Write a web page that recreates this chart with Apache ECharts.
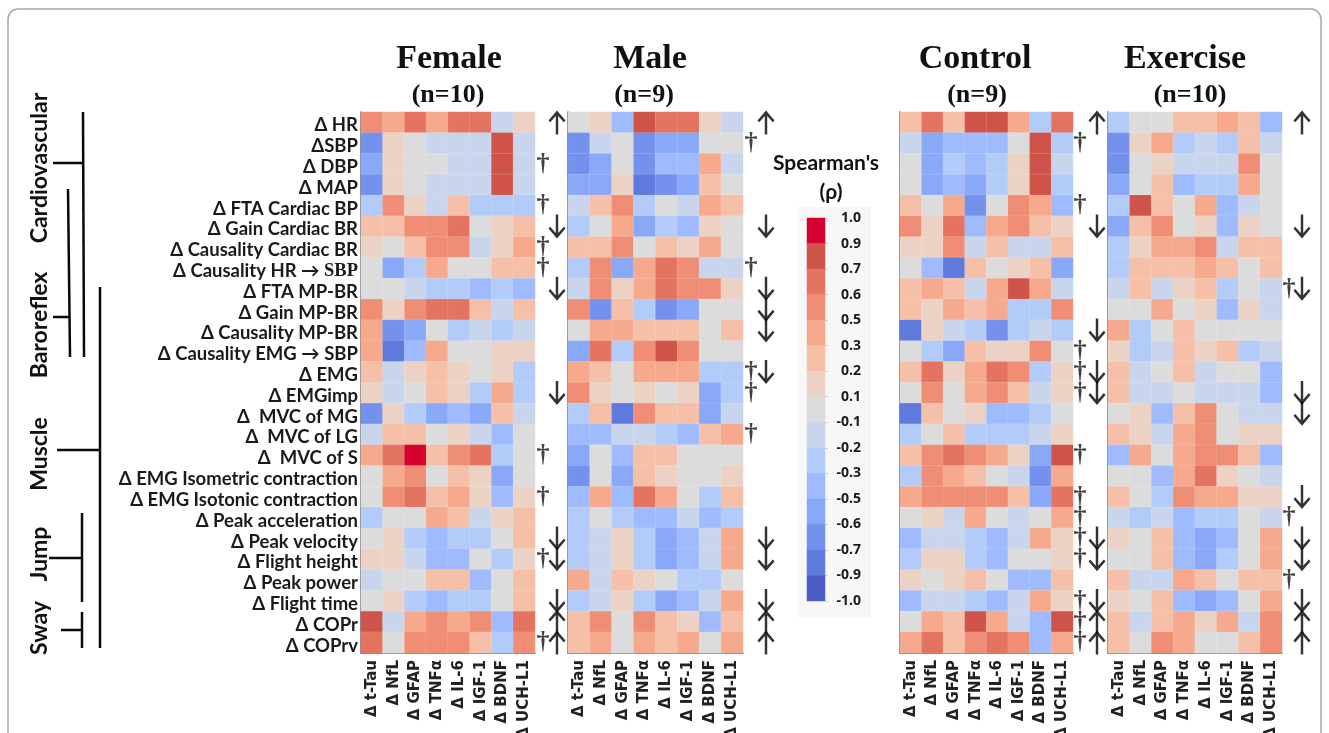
<!DOCTYPE html>
<html>
<head>
<meta charset="utf-8">
<style>html,body{margin:0;padding:0;background:#fff;overflow:hidden}#c{width:1329px;height:733px}</style>
<script src="https://cdn.jsdelivr.net/npm/echarts@6/dist/echarts.min.js"></script>
</head>
<body>
<div id="c"></div>
<script>
const markers = ["Δ t-Tau","Δ NfL","Δ GFAP","Δ TNFα","Δ IL-6","Δ IGF-1","Δ BDNF","Δ UCH-L1"];
const outcomes = ["Δ HR","ΔSBP","Δ DBP","Δ MAP","Δ FTA Cardiac BP","Δ Gain Cardiac BR","Δ Causality Cardiac BR","Δ Causality HR → SBP","Δ FTA MP-BR","Δ Gain MP-BR","Δ Causality MP-BR","Δ Causality EMG → SBP","Δ EMG","Δ EMGimp","Δ  MVC of MG","Δ  MVC of LG","Δ  MVC of S","Δ EMG Isometric contraction","Δ EMG Isotonic contraction","Δ Peak acceleration","Δ Peak velocity","Δ Flight height","Δ Peak power","Δ Flight time","Δ COPr","Δ COPrv"];

const female = [
[.55,.4,.65,.4,.65,.65,-.15,.15],
[-.65,.15,0,-.15,-.15,-.15,.8,-.15],
[-.55,.15,0,0,-.15,-.15,.8,-.15],
[-.65,.15,0,-.15,-.15,-.15,.8,-.15],
[-.25,.55,.15,-.15,.25,-.25,-.25,-.25],
[.25,.25,.55,.55,.65,0,.15,.25],
[.15,0,.25,.55,.55,-.15,.15,.4],
[0,-.55,-.25,.4,0,0,.25,.25],
[0,0,-.15,-.25,-.25,-.4,-.25,-.4],
[.55,.15,.55,.65,.65,.25,-.15,.25],
[.4,-.65,-.55,0,-.25,-.15,-.25,-.15],
[.4,-.8,-.4,.4,0,0,.15,.15],
[.25,-.15,.15,.25,.15,0,.15,-.25],
[.15,-.15,0,.25,.15,-.25,.4,-.25],
[-.65,.15,-.25,-.55,-.4,-.55,.25,-.15],
[-.15,.25,.25,0,.15,-.15,-.4,0],
[.4,.65,.95,.25,.55,.65,-.25,0],
[0,.4,.55,0,.25,.15,-.55,0],
[0,.55,.65,.25,.4,.15,-.4,.15],
[-.25,0,0,.4,.25,-.15,.15,.25],
[0,.15,-.25,-.4,-.25,-.25,0,.25],
[.15,.15,-.15,-.4,-.4,0,-.25,.15],
[-.15,0,0,.25,.25,-.4,0,.25],
[0,.15,-.25,-.4,-.25,-.25,0,.25],
[.8,-.15,.4,.55,.4,.55,-.4,.65],
[.65,0,.55,.55,.55,.25,-.25,.55]];

const male = [
[0,.15,-.4,.8,.65,.65,.15,-.15],
[-.65,-.15,0,-.65,-.55,-.55,0,0],
[-.65,-.55,0,-.65,-.4,-.4,.4,-.15],
[-.55,-.55,.15,-.8,-.65,-.55,.25,0],
[-.15,.25,.55,-.25,0,-.15,.4,.25],
[-.25,0,.4,-.55,-.25,-.4,.15,0],
[.25,.25,.55,0,.25,.15,.4,0],
[-.25,.55,-.55,.4,.65,.55,-.15,-.15],
[-.15,.55,.15,.4,.65,.55,.55,.15],
[.55,-.65,.25,-.25,-.65,-.55,0,0],
[0,.4,.4,.25,.25,.25,0,.25],
[-.55,.65,-.25,.55,.8,.55,0,0],
[.4,.25,0,.4,.4,.4,-.25,-.25],
[.55,.15,0,.15,0,.15,-.55,-.25],
[-.25,.25,-.8,.55,.25,.25,-.55,-.15],
[-.4,-.4,-.15,-.15,-.25,-.4,.25,.4],
[-.55,0,-.4,.25,.25,0,0,0],
[-.65,0,-.55,.25,.15,0,0,.15],
[-.4,.4,-.4,.65,.4,0,-.25,.25],
[-.25,0,-.25,-.4,-.4,-.15,-.4,-.25],
[-.25,-.15,.15,-.25,-.55,-.4,-.15,.4],
[-.25,-.15,.15,-.25,-.55,-.4,-.15,.4],
[.4,-.15,.25,.15,0,-.25,-.25,0],
[-.25,-.15,.15,-.25,-.55,-.4,-.15,.4],
[.25,.55,0,.55,.25,.15,-.4,.25],
[.25,.4,0,.4,.25,.4,0,.4]];

const control = [
[.25,.65,.25,.8,.8,.4,-.25,.65],
[-.15,-.55,-.4,-.4,-.4,0,.8,-.25],
[0,-.55,-.25,-.4,-.25,.15,.8,-.15],
[0,-.55,-.4,-.55,-.25,.15,.8,-.25],
[.25,0,.4,-.65,0,.55,.4,-.4],
[.55,.15,.65,-.4,.4,.55,.25,.15],
[.15,.15,.55,-.15,.25,-.15,-.15,.25],
[0,-.4,-.8,.25,0,.15,.25,-.55],
[.25,.4,.25,-.15,.4,.8,.4,-.15],
[.25,.15,.4,.25,.4,-.25,-.25,.55],
[-.8,.15,-.15,-.25,-.65,-.25,-.15,-.25],
[0,-.25,-.55,.25,.15,.15,.55,0],
[.25,.65,.15,.4,.65,.55,-.25,.15],
[0,.55,0,.4,.55,.25,-.15,.15],
[-.8,.25,0,.15,-.4,-.4,-.25,0],
[-.25,0,.25,-.25,-.25,-.25,-.15,.15],
[.25,.55,.65,.55,.4,.15,-.55,.8],
[-.25,.55,.4,.25,0,-.15,-.65,.4],
[.4,.55,.55,.55,.55,.25,-.55,.65],
[0,.15,-.15,.4,0,-.15,0,.4],
[-.4,-.15,-.15,-.25,-.4,-.15,.4,.15],
[-.25,.15,.15,-.25,-.4,0,0,.15],
[.15,0,.15,.25,0,-.4,-.4,.25],
[-.4,-.15,-.15,-.25,-.4,-.15,.4,.15],
[0,.4,.25,.8,.4,-.15,-.4,.8],
[.4,.65,.25,.55,.65,.55,-.4,.4]];

const exercise = [
[-.25,0,0,.25,.25,.4,.25,-.4],
[-.65,.15,.4,-.25,-.15,-.25,.25,-.15],
[-.65,0,.15,-.15,-.15,-.15,.55,0],
[-.55,0,.25,-.4,-.25,-.25,.4,0],
[-.25,.8,.25,0,.4,-.4,-.15,0],
[-.55,.25,.55,0,.15,-.4,.15,0],
[-.25,.15,.4,.4,.55,-.15,.25,.25],
[-.25,.25,.25,.25,.4,.25,0,.25],
[-.15,.25,-.15,.15,.25,-.25,0,-.15],
[0,0,.4,0,.15,-.4,.15,-.15],
[.4,-.25,0,.25,0,0,0,0],
[.15,-.25,-.15,.25,.15,.25,-.25,-.15],
[.25,-.15,0,.25,-.15,0,0,-.4],
[.25,-.15,-.15,0,-.15,-.15,-.15,-.4],
[0,.15,-.4,.25,.55,0,-.15,-.15],
[.25,.15,-.15,.4,.55,0,.15,.15],
[-.4,.4,0,.4,.55,.55,.25,-.4],
[0,0,-.4,.4,.65,.15,0,-.15],
[.25,0,-.25,.55,.4,.4,.15,.15],
[-.15,-.25,-.15,-.4,-.25,-.25,0,-.15],
[.15,0,.25,-.4,-.55,-.4,0,.4],
[0,0,.25,-.4,-.55,-.25,0,.4],
[.25,-.15,-.15,.4,.25,0,.25,.25],
[.15,0,.25,-.4,-.55,-.4,0,.4],
[.25,-.15,.25,.4,.15,.4,-.15,.55],
[.25,0,.55,.4,0,0,.25,.55]];

const femaleDaggers = [2,4,6,7,16,18,21,25];
const femaleDown = [5,8,13,20,21,23];
const femaleUp = [0,24,25];
const maleDaggers = [1,7,12,13,15];
const maleDown = [5,8,9,10,12,20,21,23];
const maleUp = [0,24,25];
const controlDaggers = [1,4,11,12,13,16,18,19,20,21,23,24,25];
const controlDown = [5,10,12,13,20,21,23];
const controlUp = [0,24,25];
const exerciseDaggers = [8,19,22];
const exerciseDown = [5,8,13,14,18,20,21,23];
const exerciseUp = [0,24,25];

const rhoTicks = ["1.0","0.9","0.7","0.6","0.5","0.3","0.2","0.1","-0.1","-0.2","-0.3","-0.5","-0.6","-0.7","-0.9","-1.0"];
const rhoEdges = [1,.9,.7,.6,.5,.3,.2,.1,-.1,-.2,-.3,-.5,-.6,-.7,-.9,-1];
const rhoColors = ["#d6012e","#cf5349","#e4735f","#ef8e75","#f6a98d","#f5bfa8","#ecd2c4","#dcdcdc","#c8d5ec","#b3cbf9","#9fbbfd","#8aa8f8","#7391ed","#6079dc","#4b5cc4"];
const legendLevels = [.95,.8,.65,.55,.4,.25,.15,0,-.15,-.25,-.4,-.55,-.65,-.8,-.95];

const downPath = "path://M6.7,0 L9.3,0 L9.3,18.5 L15.2,12.2 L17,14 L8,24 L-1,14 L0.8,12.2 L6.7,18.5 Z";
const upPath = "path://M6.7,24 L9.3,24 L9.3,5.5 L15.2,11.8 L17,10 L8,0 L-1,10 L0.8,11.8 L6.7,5.5 Z";

const panels = [
 {name:"Female",n:"(n=10)",d:female,dg:femaleDaggers,dn:femaleDown,up:femaleUp,left:361,w:174,tx:449,nx:448,dx:543,ax:557},
 {name:"Male",n:"(n=9)",d:male,dg:maleDaggers,dn:maleDown,up:maleUp,left:568,w:175,tx:650,nx:644,dx:751,ax:766},
 {name:"Control",n:"(n=9)",d:control,dg:controlDaggers,dn:controlDown,up:controlUp,left:900,w:173,tx:975,nx:977,dx:1080,ax:1097},
 {name:"Exercise",n:"(n=10)",d:exercise,dg:exerciseDaggers,dn:exerciseDown,up:exerciseUp,left:1108,w:174,tx:1185,nx:1190,dx:1289,ax:1302}
];
const TOP = 112, H = 541;
const grids=[],xAxes=[],yAxes=[],series=[],titles=[];
const sans = "Lato,'Open Sans'";

panels.forEach((p,i)=>{
  titles.push({text:p.name,left:p.tx,top:42,padding:0,textAlign:"center",textStyle:{fontFamily:"'Liberation Serif'",fontWeight:"bold",fontSize:34,color:"#111"}});
  titles.push({text:p.n,left:p.nx,top:82,padding:0,textAlign:"center",textStyle:{fontFamily:"'Liberation Serif'",fontWeight:"bold",fontSize:26,color:"#111"}});
  const g = grids.length;
  grids.push({left:p.left,top:TOP,width:p.w,height:H,outerBoundsMode:"none"});
  xAxes.push({gridIndex:g,type:"category",data:markers,position:"bottom",
    axisLine:{show:true,lineStyle:{color:"#555",width:1.5}},axisTick:{show:false},
    axisLabel:{rotate:90,interval:0,margin:7,fontFamily:"'DejaVu Sans'",fontSize:15,fontWeight:"bold",color:"#222"},splitLine:{show:false}});
  yAxes.push({gridIndex:g,type:"category",data:outcomes,inverse:true,
    axisLine:{show:true,onZero:false,lineStyle:{color:"#555",width:1.5}},axisTick:{show:false},splitLine:{show:false},
    axisLabel:{show:i===0,interval:0,margin:3,padding:[6,0,0,0],fontFamily:sans,fontSize:18.5,fontWeight:"bold",color:"#1a1a1a",
      formatter:v=>v.includes("HR → SBP")?"{a|Δ Causality HR → }{s|SBP}":v,
      rich:{a:{fontFamily:sans,fontSize:18.5,fontWeight:"bold",color:"#1a1a1a"},s:{fontFamily:"'Liberation Serif'",fontSize:18.5,fontWeight:"bold",color:"#1a1a1a"}}}});
  const cells=[];
  p.d.forEach((row,r)=>row.forEach((v,c)=>cells.push([c,r,v])));
  series.push({type:"heatmap",name:p.name,xAxisIndex:g,yAxisIndex:g,data:cells,
    itemStyle:{borderWidth:1,borderColor:"rgba(255,255,255,0.12)"},emphasis:{disabled:true},silent:true,z:2});
});

panels.forEach((p)=>{
  const g = grids.length, gap=p.ax-p.dx;
  grids.push({left:p.dx-gap/2,top:TOP,width:gap*2,height:H,outerBoundsMode:"none"});
  xAxes.push({gridIndex:g,type:"category",data:["dagger","arrow"],show:false});
  yAxes.push({gridIndex:g,type:"category",data:outcomes,inverse:true,show:false});
  series.push({type:"scatter",xAxisIndex:g,yAxisIndex:g,silent:true,symbolSize:1,itemStyle:{color:"rgba(0,0,0,0)"},
    data:p.dg.map(r=>["dagger",r]),
    label:{show:true,position:"inside",formatter:"†",fontFamily:"'Liberation Serif'",fontSize:26,fontWeight:"bold",color:"#111"}});
  series.push({type:"scatter",xAxisIndex:g,yAxisIndex:g,silent:true,symbol:downPath,symbolSize:[17,24],itemStyle:{color:"#000"},
    data:p.dn.map(r=>["arrow",r])});
  series.push({type:"scatter",xAxisIndex:g,yAxisIndex:g,silent:true,symbol:upPath,symbolSize:[17,24],itemStyle:{color:"#000"},
    data:p.up.map(r=>["arrow",r])});
});

const lg = grids.length;
grids.push({left:807,top:218,width:18,height:383,outerBoundsMode:"none"});
xAxes.push({gridIndex:lg,type:"category",data:["rho"],show:false});
yAxes.push({gridIndex:lg,type:"category",data:legendLevels.map(String),inverse:true,show:false});
const tickAxis = yAxes.length;
yAxes.push({gridIndex:lg,type:"value",position:"right",inverse:true,min:0,max:15,interval:1,
  axisLine:{show:false},splitLine:{show:false},
  axisTick:{show:true,length:3,lineStyle:{color:"#f0c8c0"}},
  axisLabel:{align:"right",margin:36,padding:[3,0,0,0],fontFamily:"'Open Sans'",fontSize:14,fontWeight:"bold",color:"#1a1a1a",
    formatter:v=>rhoTicks[v]}});
series.push({type:"heatmap",name:"legend",xAxisIndex:lg,yAxisIndex:lg,silent:true,
  data:legendLevels.map((v,i)=>[0,i,v]),emphasis:{disabled:true},z:3});
series.push({type:"line",xAxisIndex:lg,yAxisIndex:tickAxis,data:[],silent:true});

titles.push({text:"Spearman's",left:826,top:153,padding:0,textAlign:"center",textStyle:{fontFamily:sans,fontWeight:"bold",fontSize:21,color:"#111"}});
titles.push({text:"(ρ)",left:831,top:182,padding:0,textAlign:"center",textStyle:{fontFamily:sans,fontWeight:"bold",fontSize:21,color:"#111"}});

const line=(x1,y1,x2,y2)=>({type:"line",shape:{x1,y1,x2,y2},style:{stroke:"#0a0a0a",lineWidth:2.5},silent:true});
const group=(text,y)=>({type:"text",x:40,y,rotation:Math.PI/2,silent:true,
  style:{text,fontFamily:sans,fontWeight:"bold",fontSize:23,fill:"#111",textAlign:"center",textVerticalAlign:"middle"}});

const pieces = rhoColors.map((color,i)=>({min:rhoEdges[i+1],max:rhoEdges[i],color}));

const chart = echarts.init(document.getElementById("c"),null,{renderer:"canvas"});
chart.setOption({
  animation:false,backgroundColor:"#fff",
  title:titles,grid:grids,xAxis:xAxes,yAxis:yAxes,series,
  visualMap:{type:"piecewise",show:false,seriesIndex:[0,1,2,3,series.findIndex(s=>s.name==="legend")],dimension:2,pieces},
  graphic:[
    {type:"rect",z:-1,silent:true,shape:{x:8,y:9,width:1313,height:760,r:10},style:{fill:"#fff",stroke:"#a8a8a8",lineWidth:1.5}},
    {type:"rect",z:-1,silent:true,shape:{x:798,y:207,width:73,height:411},style:{fill:"#f7f7f7"}},
    line(83,112,84,357),line(53,163,83,163),
    line(68,189,70,357),line(53,317,69,317),
    line(100,287,100,648),line(57,450,100,450),
    line(82,513,82,602),line(49,558,82,558),
    line(82,612,82,648),line(61,630,82,630),
    group("Cardiovascular",168),group("Baroreflex",325),group("Muscle",454),group("Jump",554),group("Sway",628)
  ]
});
</script>
</body>
</html>
